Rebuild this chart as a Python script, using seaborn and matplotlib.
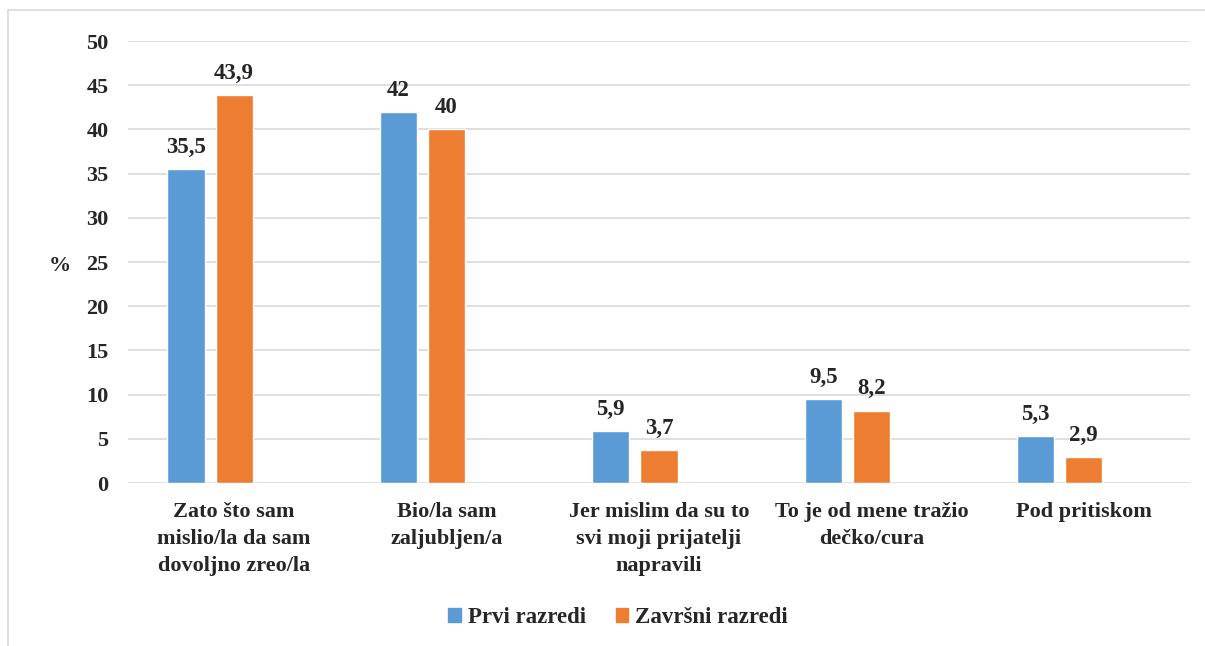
import pandas as pd
import seaborn as sns
import matplotlib.pyplot as plt
from matplotlib.patches import Patch, Rectangle

# Data
categories = ['Zato što sam\nmislio/la da sam\ndovoljno zreo/la',
              'Bio/la sam\nzaljubljen/a',
              'Jer mislim da su to\nsvi moji prijatelji\nnapravili',
              'To je od mene tražio\ndečko/cura',
              'Pod pritiskom']
prvi = [35.5, 42, 5.9, 9.5, 5.3]
zavrsni = [43.9, 40, 3.7, 8.2, 2.9]
series = ['Prvi razredi', 'Završni razredi']
colors = ['#5B9BD5', '#ED7D31']

df = pd.DataFrame({
    'cat': categories * 2,
    'val': prvi + zavrsni,
    'series': [series[0]] * len(prvi) + [series[1]] * len(zavrsni),
})

sns.set_style('white')
plt.rcParams['font.family'] = ['Liberation Serif', 'DejaVu Serif']
plt.rcParams['font.weight'] = 'bold'

fig = plt.figure(figsize=(12.05, 6.46), dpi=100)
ax = fig.add_axes([0.1062, 0.2523, 0.8814, 0.6842])

# third (empty) slot keeps the Excel-style offset of the bars
hue_order = series + ['_empty']
palette = {series[0]: colors[0], series[1]: colors[1], '_empty': 'white'}
sns.barplot(data=df, x='cat', y='val', hue='series', hue_order=hue_order,
            palette=palette, width=0.68, gap=0.23, saturation=1,
            legend=False, ax=ax, errorbar=None)

for c in ax.containers:
    ax.bar_label(c, labels=[('%g' % v).replace('.', ',') if v == v else '' for v in c.datavalues],
                 padding=8, fontsize=16.5, fontweight='bold')

ax.set_ylim(0, 50)
ax.set_yticks(range(0, 51, 5))
ax.yaxis.grid(True, color='#D9D9D9', linewidth=1.2)
ax.set_axisbelow(True)
for s in ax.spines.values():
    s.set_visible(False)
ax.tick_params(axis='y', length=0, labelsize=16, pad=14)
ax.tick_params(axis='x', length=0, labelsize=16, pad=14)
ax.set_xlabel('')
ax.set_ylabel('%', rotation=0, fontsize=16, fontweight='bold', va='center', ha='center')
ax.yaxis.set_label_coords(-0.064, 0.49)
for lab in ax.get_xticklabels() + ax.get_yticklabels():
    lab.set_fontweight('bold')
for lab in ax.get_xticklabels():
    lab.set_linespacing(1.45)

handles = [Patch(color=colors[i], label=series[i]) for i in range(2)]
fig.legend(handles=handles, loc='center', bbox_to_anchor=(0.513, 0.044), ncol=2,
           frameon=False, fontsize=16.5, handlelength=0.55, handleheight=0.55,
           handletextpad=0.3, columnspacing=1.3)

fig.add_artist(Rectangle((8 / 1205, -0.01), 1.0, 1 - 10 / 646 + 0.01, transform=fig.transFigure,
                         fill=False, edgecolor='#D9D9D9', linewidth=1.2))

fig.savefig('out.png', dpi=100)
